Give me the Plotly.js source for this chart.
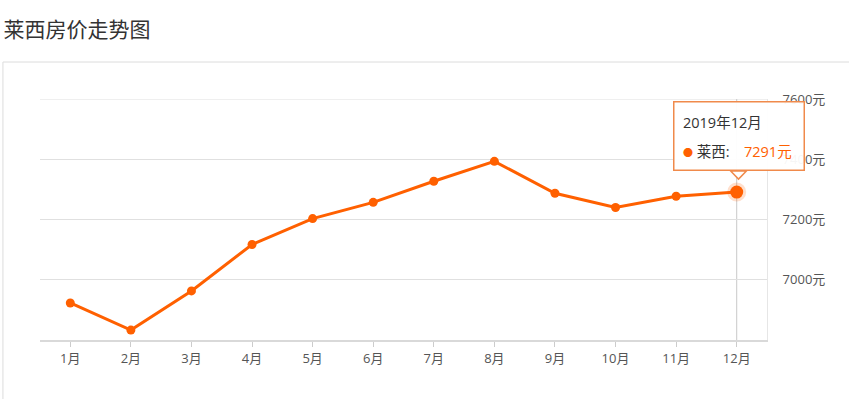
<!DOCTYPE html>
<html><head><meta charset="utf-8">
<script src="https://cdn.plot.ly/plotly-3.0.1.min.js"></script>
<style>html,body{margin:0;padding:0;background:#fff;}#chart{width:849px;height:399px;}</style>
</head><body><div id="chart"></div>
<script>
const months = ['1月','2月','3月','4月','5月','6月','7月','8月','9月','10月','11月','12月'];
const prices = [6923, 6833, 6963, 7117, 7203, 7257, 7327, 7393, 7287, 7240, 7277, 7291];
const yTickVals = [7000, 7200, 7400, 7600];
const yTickText = ['7000元','7200元','7400元','7600元'];
const seriesName = '莱西';
const tipTitle = '2019年12月';
const hi = months.length - 1;

const orange = '#ff6000';
const cjk = '"Noto Sans CJK SC", "Microsoft YaHei", sans-serif';
const labelFont = '"Open Sans", "Noto Sans CJK SC", sans-serif';

// tooltip pointer geometry (units of the axes: 1 category ≈ 60.6px, 1px ≈ 3.32 price units)
const tipBase = 7360, tipH = 26, tipHalfW = 0.13;

const traces = [
  {x: months, y: prices, type: 'scatter', mode: 'lines+markers', name: seriesName,
   line: {color: orange, width: 3}, marker: {color: orange, size: 9}, hoverinfo: 'skip'},
  {x: [months[hi]], y: [prices[hi]], type: 'scatter', mode: 'markers', showlegend: false,
   marker: {color: orange, size: 13, line: {color: 'rgba(255,96,0,0.2)', width: 6}}, hoverinfo: 'skip'}
];

const tipFont = {family: labelFont, size: 14.5, color: '#333'};

const layout = {
  width: 849, height: 399,
  margin: {l: 40, r: 82, t: 99, b: 59},
  paper_bgcolor: '#fff', plot_bgcolor: '#fff',
  showlegend: false,
  font: {family: labelFont, color: '#555', size: 12},
  title: {text: '莱西房价走势图', x: 0.004, xref: 'container', xanchor: 'left', y: 0.925, yref: 'container', yanchor: 'middle',
          font: {family: cjk, size: 21, color: '#333'}},
  xaxis: {type: 'category', range: [-0.5, 11.5], showgrid: false, zeroline: false,
          showline: true, linecolor: '#d9d9d9', linewidth: 2,
          ticks: 'outside', ticklen: 5, tickcolor: '#ccc', tickwidth: 1,
          tickfont: {family: labelFont, size: 13, color: '#555'}, fixedrange: true},
  yaxis: {side: 'right', range: [6800, 7600], tickvals: yTickVals, ticktext: yTickText,
          showgrid: true, gridcolor: '#e0e0e0', gridwidth: 1, zeroline: false,
          showline: true, linecolor: '#e6e6e6', linewidth: 1, ticks: '', ticklabelstandoff: 12,
          tickfont: {family: labelFont, size: 13, color: '#555'}, fixedrange: true},
  shapes: [
    {type: 'rect', xref: 'paper', yref: 'paper', x0: -0.051, x1: 1.2, y0: -0.5, y1: 1.1535,
     line: {color: '#dcdcdc', width: 1}, fillcolor: 'rgba(0,0,0,0)', layer: 'below'},
    {type: 'line', xref: 'paper', yref: 'y', x0: 0, x1: 1, y0: yTickVals[3], y1: yTickVals[3],
     line: {color: '#e0e0e0', width: 1}, layer: 'below'},
    {type: 'line', xref: 'x', yref: 'paper', x0: hi, x1: hi, y0: 0, y1: 1,
     line: {color: '#c8c8c8', width: 1}, layer: 'below'},
    {type: 'path', xref: 'x', yref: 'y',
     path: 'M ' + (hi + 0.03 - tipHalfW) + ',' + (tipBase + 1) + ' L ' + (hi + 0.03) + ',' + (tipBase - tipH) +
           ' L ' + (hi + 0.03 + tipHalfW) + ',' + (tipBase + 1) + ' Z',
     fillcolor: '#fff', line: {color: '#f08a4b', width: 1.5}, layer: 'above'}
  ],
  annotations: [
    {xref: 'x', yref: 'y', x: hi, y: tipBase, xanchor: 'center', yanchor: 'bottom', showarrow: false,
     width: 113, height: 51, text: ' ',
     bgcolor: 'rgba(255,255,255,0.95)', bordercolor: '#f08a4b', borderwidth: 1.5, borderpad: 8,
     font: tipFont, xshift: 2},
    {xref: 'x', yref: 'y', x: hi, y: tipBase, xanchor: 'left', yanchor: 'middle', showarrow: false,
     text: tipTitle, font: tipFont, xshift: -56, yshift: 49},
    {xref: 'x', yref: 'y', x: hi, y: tipBase, xanchor: 'left', yanchor: 'middle', showarrow: false,
     text: '<span style="color:' + orange + ';font-size:10px">●</span> ' + seriesName + ':',
     font: tipFont, xshift: -56, yshift: 20},
    {xref: 'x', yref: 'y', x: hi, y: tipBase, xanchor: 'left', yanchor: 'middle', showarrow: false,
     text: prices[hi] + '元', font: {family: labelFont, size: 14.5, color: orange}, xshift: 5, yshift: 20}
  ]
};

Plotly.newPlot('chart', traces, layout, {displayModeBar: false, staticPlot: true});
</script></body></html>
